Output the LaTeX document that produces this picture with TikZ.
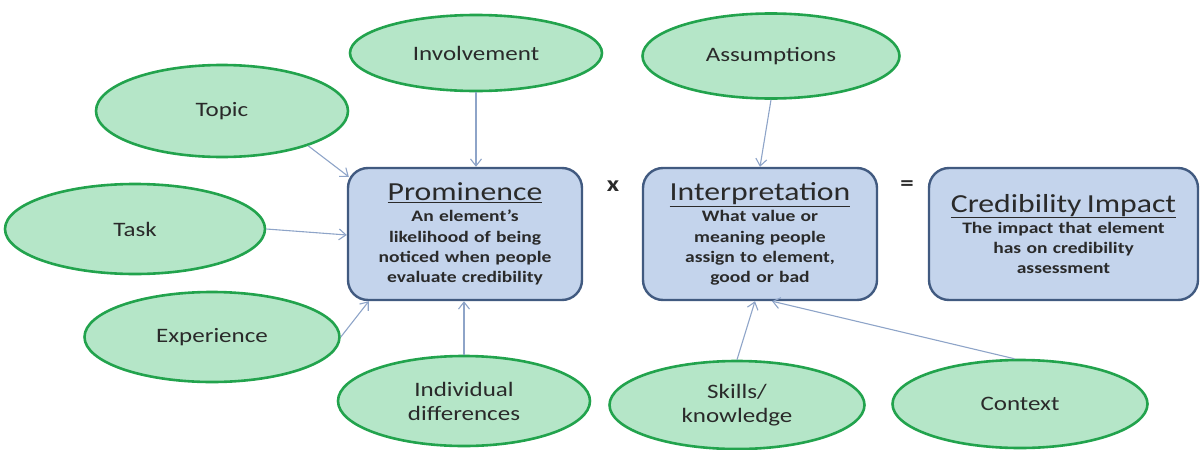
\documentclass[tikz,border=0pt]{standalone}
\usepackage{fontspec}
\setmainfont[FakeStretch=1.22]{Carlito}
\usetikzlibrary{shapes.geometric,arrows.meta,calc}
\definecolor{ellfill}{HTML}{B5E6C8}
\definecolor{elldraw}{HTML}{22A34D}
\definecolor{boxfill}{HTML}{C4D4EC}
\definecolor{boxdraw}{HTML}{415A80}
\definecolor{arrowc}{HTML}{8EA4C8}
\definecolor{txt}{HTML}{2A2A2A}
\tikzset{
  factor/.style={ellipse, draw=elldraw, fill=ellfill, line width=2.6pt,
    minimum width=252pt, minimum height=88pt, inner sep=0pt, align=center,
    text=txt, font=\fontsize{20.5}{24}\selectfont},
  mainbox/.style={draw=boxdraw, fill=boxfill, line width=2.4pt, rounded corners=20pt,
    minimum width=234pt, minimum height=132pt, inner sep=0pt, align=center,
    text=txt, text width=230pt, font=\fontsize{16}{20.3}\selectfont\bfseries},
  conn/.style={draw=arrowc, line width=1.1pt, -{Straight Barb[length=7pt,width=11pt,line width=1.1pt]}},
  optext/.style={text=txt, font=\fontsize{22}{26}\selectfont\bfseries}
}
\newcommand{\boxttl}[1]{{\fontsize{26}{26}\mdseries\selectfont\underline{#1}}\\[1pt]}
\begin{document}
\begin{tikzpicture}[x=1pt,y=-1pt]
\useasboundingbox (0,0) rectangle (1200,450);
% boxes
\node[mainbox] (prom) at (465,234) {\boxttl{Prominence}An element’s\\likelihood of being\\noticed when people\\evaluate credibility};
\node[mainbox] (int) at (760,234) {\boxttl{Interpretation}What value or\\meaning people\\assign to element,\\good or bad};
\node[mainbox, minimum width=269pt, text width=262pt] (cred) at (1063.5,234) {\boxttl{Credibility Impact}The impact that element\\has on credibility\\assessment};
% operators
\node[optext] (times) at (613,186) {x};
\node[optext] (equals) at (907,186) {=};
% factors
\node[factor, minimum height=76pt] (inv) at (476,53) {Involvement};
\node[factor, minimum height=92pt] (topic) at (222,111) {Topic};
\node[factor, minimum width=260pt, minimum height=90pt] (task) at (135,229) {Task};
\node[factor, minimum width=255pt, minimum height=90pt] (exp) at (212,337) {Experience};
\node[factor, minimum height=90pt] (ind) at (464,401) {Individual\\differences};
\node[factor, minimum width=257pt, minimum height=85pt] (ass) at (771,56) {Assumptions};
\node[factor, minimum width=255pt, minimum height=88pt] (skills) at (737,405) {Skills/\\knowledge};
\node[factor, minimum width=255pt, minimum height=88pt] (ctx) at (1020,404) {Context};
% connectors
\draw[conn] (topic.-22) -- ([xshift=2pt,yshift=-10pt]prom.north west);
\draw[conn] (inv.south) -- (inv.south |- prom.north);
\draw[conn] (task.east) -- ([yshift=-1pt]prom.west);
\draw[conn] (exp.east) -- ([xshift=22pt]prom.south west);
\draw[conn] (ind.north) -- (ind.north |- prom.south);
\draw[conn] (ass.south) -- (int.north);
\draw[conn] (skills.north) -- ([xshift=-5pt]int.south);
\draw[conn] (ctx.97) -- ([xshift=12pt]int.south);
\end{tikzpicture}
\end{document}
